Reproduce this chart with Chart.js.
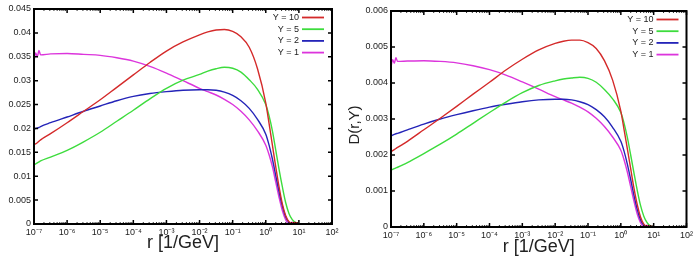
<!DOCTYPE html>
<html>
<head>
<meta charset="utf-8">
<script src="https://cdn.jsdelivr.net/npm/chart.js@4.4.1/dist/chart.umd.min.js"></script>
<style>
  html, body { margin: 0; padding: 0; background: #fff; }
  body { width: 696px; height: 262px; position: relative; overflow: hidden; }
  .panel { position: absolute; top: 0; height: 262px; }
</style>
</head>
<body>
<div class="panel" style="left:0;width:346px"><canvas id="left"></canvas></div>
<div class="panel" style="left:346px;width:350px"><canvas id="right"></canvas></div>
<script>
// log10(r) sample positions
const logR = [-7, -6.95, -6.9, -6.85, -6.8, -6.5, -6, -5.5, -5, -4.5, -4, -3.5, -3, -2.5, -2, -1.75, -1.5, -1.25,
  -1, -0.75, -0.5, -0.25, 0, 0.1, 0.2, 0.3, 0.4, 0.5, 0.6, 0.7, 0.8, 0.9, 1];
const decades = [-7, -6, -5, -4, -3, -2, -1, 0, 1, 2];
const seriesNames = ['Y = 10', 'Y = 5', 'Y = 2', 'Y = 1'];
const colors = ['#d42a2a', '#3ddc3d', '#2424b8', '#dc35dc'];

// left panel, values in units of 1e-3
const leftY10 = [16.5, 16.8, 17.0, 17.3, 17.6, 18.9, 21.2, 23.6, 26.0, 28.6, 31.2, 33.8, 36.2, 38.1, 39.6, 40.2, 40.6, 40.7,
  40.3, 39.2, 37.0, 32.5, 25.3, 21.0, 16.5, 12.0, 7.8, 4.2, 1.8, 0.5, 0.2, 0.3, 0];
const leftY5 = [12.4, 12.6, 12.8, 13.0, 13.2, 14.0, 15.4, 17.2, 19.2, 21.5, 23.8, 26.2, 28.4, 30.1, 31.3, 32.0, 32.5, 32.8,
  32.6, 31.8, 30.2, 28.2, 25.0, 22.6, 19.5, 15.5, 11.5, 7.8, 4.5, 2.2, 0.9, 0.3, 0];
const leftY2 = [19.8, 20.0, 20.1, 20.2, 20.4, 21.2, 22.4, 23.6, 24.7, 25.8, 26.7, 27.3, 27.7, 28.0, 28.1, 28.1, 28.0, 27.6,
  26.9, 25.8, 24.2, 21.9, 18.8, 16.5, 13.6, 10.2, 6.8, 3.8, 1.5, 0.3, 0, 0, 0];
const leftY1 = [34.0, 35.8, 35.0, 36.3, 35.4, 35.6, 35.7, 35.5, 35.3, 34.8, 34.1, 33.0, 31.6, 30.0, 28.4, 27.7, 27.0, 26.1,
  25.0, 23.6, 21.8, 19.5, 16.5, 14.5, 12.0, 8.8, 5.6, 2.8, 0.9, 0, 0.4, 0.1, 0];
const leftTicks = [0, 0.005, 0.01, 0.015, 0.02, 0.025, 0.03, 0.035, 0.04, 0.045];

// right panel, values in units of 1e-4
const rightY10 = [20.9, 21.2, 21.5, 21.8, 22.1, 23.8, 27.0, 30.2, 33.5, 36.9, 40.2, 43.6, 46.6, 49.2, 51.0, 51.6, 51.9, 51.9,
  51.2, 49.6, 46.2, 40.8, 32.2, 27.0, 21.6, 16.2, 10.8, 6.2, 2.8, 0.8, 0.2, 0.3, 0];
const rightY5 = [15.8, 16.0, 16.2, 16.4, 16.6, 17.9, 20.4, 23.0, 25.8, 28.8, 31.8, 34.7, 37.3, 39.3, 40.6, 41.1, 41.4, 41.6,
  41.3, 40.2, 38.2, 35.6, 31.8, 28.8, 24.8, 20.0, 15.0, 10.2, 6.0, 3.0, 1.2, 0.3, 0];
const rightY2 = [25.3, 25.5, 25.7, 25.9, 26.0, 27.0, 28.6, 30.0, 31.2, 32.3, 33.3, 34.1, 34.8, 35.3, 35.5, 35.5, 35.3, 34.8,
  34.0, 32.6, 30.6, 27.7, 23.8, 21.0, 17.4, 13.2, 8.8, 4.9, 2.0, 0.4, 0, 0, 0];
const rightY1 = [44.5, 46.5, 45.5, 47.0, 46.0, 46.1, 46.2, 46.0, 45.6, 44.8, 43.7, 42.2, 40.3, 38.3, 36.2, 35.3, 34.4, 33.3,
  32.0, 30.2, 27.9, 25.0, 21.3, 18.6, 15.2, 11.2, 7.2, 3.6, 1.2, 0, 0.5, 0.1, 0];
const rightTicks = [0, 0.001, 0.002, 0.003, 0.004, 0.005, 0.006];

const sup = {'-': '\u207B', '0': '\u2070', '1': '\u00B9', '2': '\u00B2', '3': '\u00B3', '4': '\u2074',
  '5': '\u2075', '6': '\u2076', '7': '\u2077', '8': '\u2078', '9': '\u2079'};
const font = '"Liberation Sans", Arial, sans-serif';

// frame, inward ticks, legend and y title
const framePlugin = {
  id: 'frame',
  afterDraw(chart, args, opts) {
    const {ctx, chartArea: a, scales: {x, y}} = chart;
    ctx.save();
    ctx.strokeStyle = '#000';
    ctx.lineWidth = 1.5;
    ctx.beginPath();
    decades.forEach(e => {
      const px = x.getPixelForValue(Math.pow(10, e));
      ctx.moveTo(px, a.bottom); ctx.lineTo(px, a.bottom - 4);
      ctx.moveTo(px, a.top); ctx.lineTo(px, a.top + 4);
    });
    y.ticks.forEach(t => {
      const py = y.getPixelForValue(t.value);
      ctx.moveTo(a.left, py); ctx.lineTo(a.left + 4, py);
      ctx.moveTo(a.right, py); ctx.lineTo(a.right - 4, py);
    });
    ctx.stroke();
    ctx.lineWidth = 0.8;
    ctx.beginPath();
    decades.slice(0, -1).forEach(e => {
      for (let m = 2; m < 10; m++) {
        const px = x.getPixelForValue(m * Math.pow(10, e));
        ctx.moveTo(px, a.bottom); ctx.lineTo(px, a.bottom - 2);
        ctx.moveTo(px, a.top); ctx.lineTo(px, a.top + 2);
      }
    });
    ctx.stroke();
    ctx.lineWidth = 2;
    ctx.strokeRect(a.left, a.top, a.right - a.left, a.bottom - a.top);

    // legend
    ctx.font = '9px ' + font;
    ctx.textAlign = 'right';
    ctx.textBaseline = 'middle';
    chart.data.datasets.forEach((ds, i) => {
      const ly = a.top + 8.5 + i * 11.7;
      ctx.fillStyle = '#222';
      ctx.fillText(ds.label, a.right - 33, ly);
      ctx.strokeStyle = ds.borderColor;
      ctx.lineWidth = 1.8;
      ctx.beginPath();
      ctx.moveTo(a.right - 30, ly); ctx.lineTo(a.right - 8, ly);
      ctx.stroke();
    });

    // y title
    ctx.translate(opts.titleX, (a.top + a.bottom) / 2 + opts.titleDy);
    ctx.rotate(-Math.PI / 2);
    ctx.font = '15px ' + font;
    ctx.textAlign = 'center';
    ctx.textBaseline = 'alphabetic';
    ctx.fillStyle = '#222';
    ctx.fillText('D(r,Y)', 0, 0);
    ctx.restore();
  }
};

function makeChart(id, series, scaleUnit, yTicks, cfg) {
  const datasets = series.map((vals, i) => ({
    label: seriesNames[i],
    data: logR.map((lr, k) => ({x: Math.pow(10, lr), y: vals[k] * scaleUnit})),
    borderColor: colors[i],
    borderWidth: 1.4,
    pointRadius: 0,
    cubicInterpolationMode: 'monotone',
    fill: false
  }));
  return new Chart(document.getElementById(id), {
    type: 'line',
    data: {datasets},
    plugins: [framePlugin],
    options: {
      responsive: true,
      maintainAspectRatio: false,
      animation: false,
      layout: {padding: {top: cfg.top, right: cfg.right, left: 0, bottom: 0}},
      plugins: {legend: {display: false}, tooltip: {enabled: false}, frame: {titleX: cfg.titleX, titleDy: cfg.titleDy}},
      scales: {
        x: {
          type: 'logarithmic',
          min: 1e-7, max: 1e2,
          grid: {display: false, drawTicks: false},
          border: {display: false},
          afterBuildTicks: s => { s.ticks = decades.map(e => ({value: Math.pow(10, e)})); },
          afterFit: s => { s.height = cfg.xHeight; },
          ticks: {
            autoSkip: false, maxRotation: 0, padding: 3,
            color: '#222', font: {family: font, size: 9},
            callback: v => '10' + String(Math.round(Math.log10(v))).split('').map(c => sup[c]).join('')
          },
          title: {display: true, text: 'r [1/GeV]', color: '#222', font: {family: font, size: 18},
            padding: {top: 0, bottom: cfg.xTitlePad}}
        },
        y: {
          min: 0, max: yTicks[yTicks.length - 1],
          grid: {display: false, drawTicks: false},
          border: {display: false},
          afterBuildTicks: s => { s.ticks = yTicks.map(v => ({value: v})); },
          afterFit: s => { s.width = cfg.yWidth; },
          ticks: {
            padding: 3, color: '#222', font: {family: font, size: 9},
            callback: v => v === 0 ? '0' : String(+v.toFixed(3))
          }
        }
      }
    }
  });
}

makeChart('left', [leftY10, leftY5, leftY2, leftY1], 1e-3, leftTicks,
  {top: 9, right: 14, xHeight: 38, yWidth: 34, xTitlePad: 8, titleX: -3, titleDy: 4});
makeChart('right', [rightY10, rightY5, rightY2, rightY1], 1e-4, rightTicks,
  {top: 11, right: 8, xHeight: 35, yWidth: 45, xTitlePad: 4, titleX: 13, titleDy: 6});
</script>
</body>
</html>
